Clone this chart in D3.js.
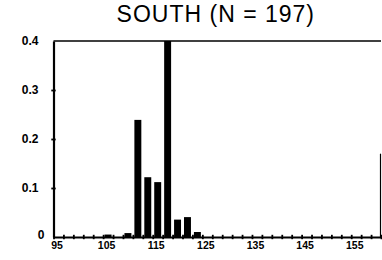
<!DOCTYPE html>
<html>
<head>
<meta charset="utf-8">
<script src="https://cdn.jsdelivr.net/npm/d3@7"></script>
<style>
  html, body { margin: 0; padding: 0; background: #fff; }
  svg { display: block; }
  text { font-family: "Liberation Sans", Arial, Helvetica, sans-serif; fill: #000; }
</style>
</head>
<body>
<svg id="chart" width="382" height="260"></svg>
<script>
// ---- data ----
const title = "SOUTH (N = 197)";
const categories = [106, 110, 112, 114, 116, 118, 120, 122, 124];
const values = [0.005, 0.008, 0.239, 0.122, 0.112, 0.4, 0.0355, 0.0406, 0.0102];
const xTickLabels = [95, 105, 115, 125, 135, 145, 155];
const xMinorTicks = [95, 97, 99, 101, 103, 105, 107, 109, 111, 113, 115, 117, 119, 121, 123, 125, 127, 129, 131, 133, 135, 137, 139, 141, 143, 145, 147, 149, 151, 153, 155, 157, 159, 161];
const yTickLabels = [0, 0.1, 0.2, 0.3, 0.4];
const xDomain = [95, 161];
const yDomain = [0, 0.4];

// ---- layout ----
const svg = d3.select("#chart");
const mLeft = 53.5, mRight = 381, mTop = 41, mBottom = 237;

const x = d3.scaleLinear().domain(xDomain).range([mLeft, mRight]);
const y = d3.scaleLinear().domain(yDomain).range([mBottom, mTop]);

// title
svg.append("text")
  .attr("x", 315).attr("y", 22)
  .attr("text-anchor", "end")
  .style("font-size", "23px")
  .style("letter-spacing", "1px")
  .text(title);

// bars
const barW = x(1.4) - x(0);
svg.append("g").selectAll("rect")
  .data(categories)
  .join("rect")
  .attr("x", (d) => x(d) - barW / 2)
  .attr("y", (d, i) => y(values[i]))
  .attr("width", barW)
  .attr("height", (d, i) => y(0) - y(values[i]))
  .attr("fill", "#000");

// frame: top line and partial right border
svg.append("line")
  .attr("x1", mLeft).attr("x2", mRight)
  .attr("y1", mTop).attr("y2", mTop)
  .attr("stroke", "#000").attr("stroke-width", 1.5);
svg.append("line")
  .attr("x1", mRight - 0.5).attr("x2", mRight - 0.5)
  .attr("y1", y(0.17)).attr("y2", mBottom)
  .attr("stroke", "#000").attr("stroke-width", 1.2);

// x axis minor ticks
const xAxisMinor = d3.axisBottom(x).tickValues(xMinorTicks).tickSize(0).tickFormat("");
const gxm = svg.append("g").attr("transform", `translate(0,${mBottom})`).call(xAxisMinor);
gxm.select(".domain").attr("stroke-width", 2.2);
gxm.selectAll(".tick line").attr("y1", -2.2).attr("y2", 2.2).attr("stroke-width", 1.8);

// x axis labels
const xAxis = d3.axisBottom(x).tickValues(xTickLabels).tickSize(0).tickPadding(5).tickFormat(d3.format("d"));
const gx = svg.append("g").attr("transform", `translate(0,${mBottom})`).call(xAxis);
gx.select(".domain").remove();
gx.selectAll(".tick text")
  .attr("dx", 3)
  .style("font-size", "10.5px").style("font-weight", "bold");

// y axis
const yAxis = d3.axisLeft(y).tickValues(yTickLabels).tickSize(0).tickPadding(15)
  .tickFormat((d) => d === 0 ? "0" : d3.format(".1f")(d));
const gy = svg.append("g").attr("transform", `translate(${mLeft},0)`).call(yAxis);
gy.select(".domain").attr("stroke-width", 2.2);
gy.selectAll(".tick line")
  .attr("x1", (d) => (d === 0 || d === 0.4) ? 0 : -2.2)
  .attr("x2", (d) => (d === 0 || d === 0.4) ? 0 : 2.2)
  .attr("stroke-width", 1.8);
gy.selectAll(".tick text")
  .attr("x", (d) => d === 0 ? -9 : -15)
  .attr("dy", (d) => d === 0 ? "0.1em" : "0.32em")
  .style("font-size", "12px").style("font-weight", "bold");
svg.selectAll(".tick text").attr("font-family", null).attr("font-size", null);
</script>
</body>
</html>
